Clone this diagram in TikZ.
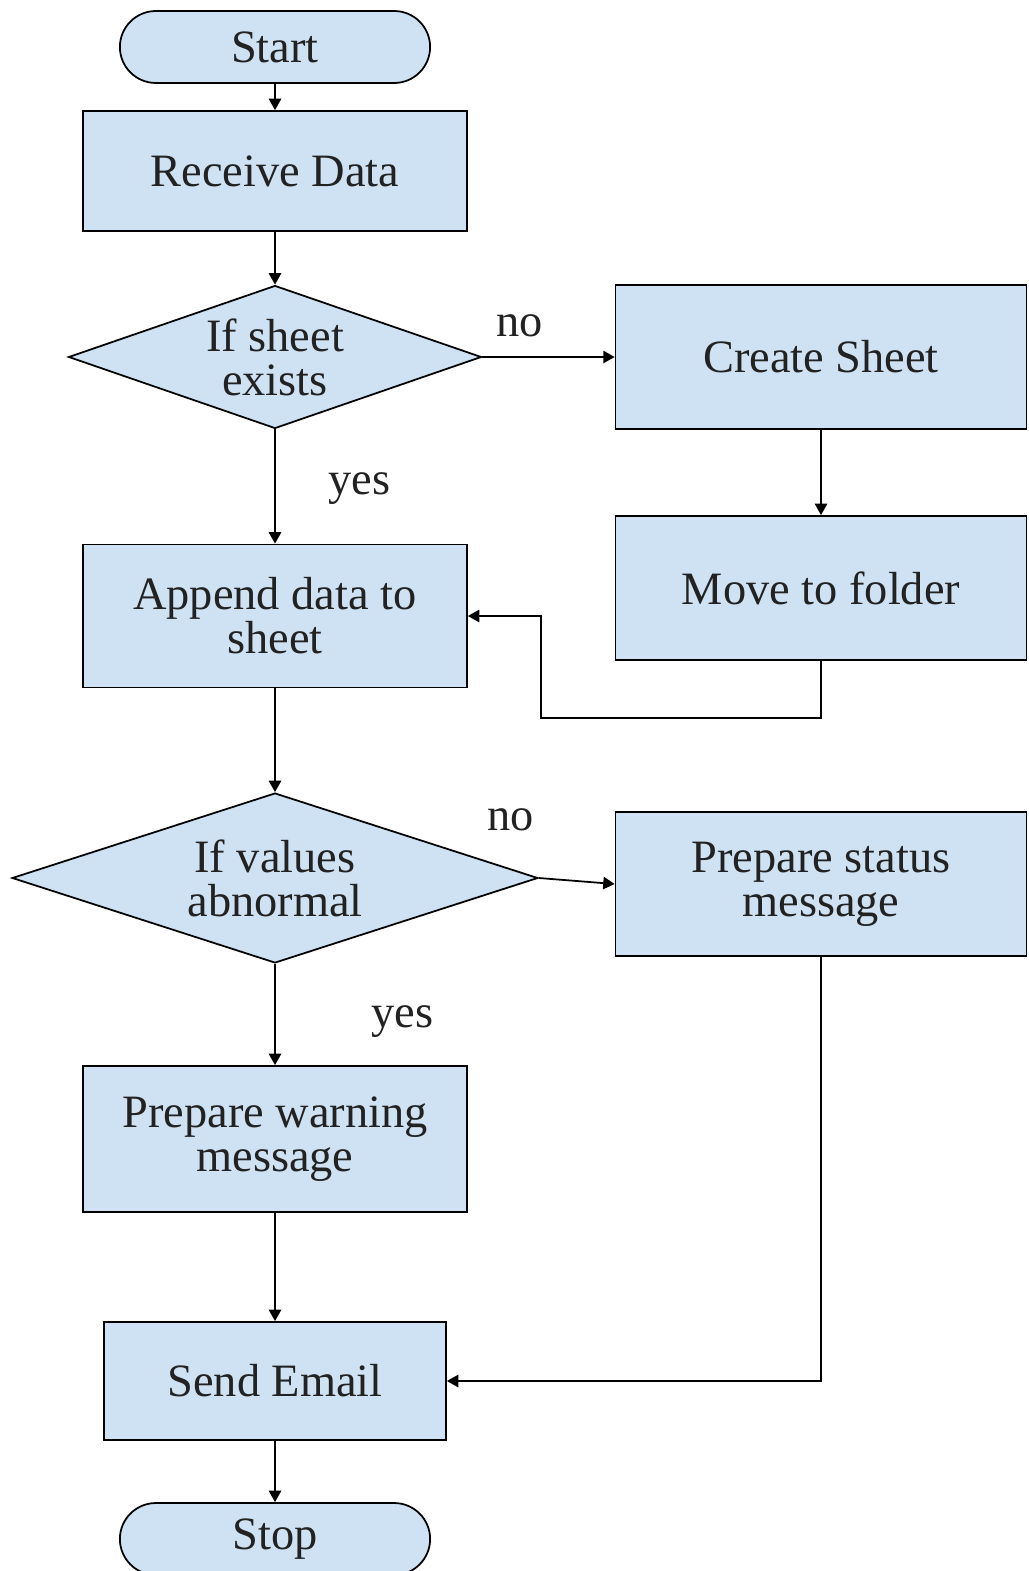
\documentclass[tikz,border=0pt]{standalone}
\usepackage{fontspec}
\setmainfont{Liberation Serif}
\usetikzlibrary{shapes.geometric, shapes.misc, arrows.meta}
\definecolor{boxblue}{HTML}{CFE2F3}
\definecolor{inkgray}{HTML}{222222}

\begin{document}
\begin{tikzpicture}[x=0.02cm, y=-0.02cm,
  every node/.style={align=center, font=\fontsize{26.4}{25}\selectfont, text=inkgray},
  startstop/.style={draw, rounded rectangle, fill=boxblue, line width=1pt, minimum width=6.44cm, minimum height=1.44cm},
  process/.style={draw, rectangle, fill=boxblue, line width=1pt, minimum width=7.68cm},
  widebox/.style={draw, rectangle, fill=boxblue, line width=1pt, minimum width=8.22cm, minimum height=2.88cm},
  decision/.style={draw, diamond, fill=boxblue, line width=1pt, inner sep=0pt},
  arrow/.style={-{Triangle[length=6.5pt, width=7pt]}, line width=1pt}]
\useasboundingbox (0,0) rectangle (1028,1571);

\node (start) [startstop] at (275,47) {Start};
\node (receive) [process, minimum height=2.4cm] at (275,171) {Receive Data};
\node (sheet) [decision, aspect=2.9, minimum width=8.26cm, minimum height=2.86cm] at (275,357) {If sheet\\exists};
\node (create) [widebox] at (821,357) {Create Sheet};
\node (move) [widebox] at (821,588) {Move to folder};
\node (append) [process, minimum height=2.86cm] at (275,616) {Append data to\\sheet};
\node (values) [decision, aspect=3.1, minimum width=10.52cm, minimum height=3.4cm] at (275,878) {If values\\abnormal};
\node (status) [widebox] at (821,884) {Prepare status\\message};
\node (warning) [process, minimum height=2.92cm] at (275,1139) {Prepare warning\\message};
\node (email) [process, minimum width=6.84cm, minimum height=2.36cm] at (275,1381) {Send Email};
\node (stop) [startstop] at (275,1539) {Stop};
\coordinate (loop) at (541,718);

\draw[arrow] (start) -- (receive);
\draw[arrow] (receive) -- (sheet);
\draw[arrow] (sheet.east) -- node[pos=0.28, yshift=17.6pt]{no} (create.west);
\draw[arrow] (create) -- (move);
\draw[arrow] (sheet) -- node[pos=0.52, xshift=48pt]{yes} (append);
\draw[arrow] (move.south) |- (loop) |- (append.east);
\draw[arrow] (append) -- (values);
\draw[arrow] (values.east) -- node[pos=0, xshift=-16pt, yshift=33pt]{no} (status.west);
\draw[arrow] (values) -- node[pos=0.57, xshift=72.6pt]{yes} (warning);
\draw[arrow] (warning) -- (email);
\draw[arrow] (status.south) |- (email.east);
\draw[arrow] (email) -- (stop);
\end{tikzpicture}
\end{document}
